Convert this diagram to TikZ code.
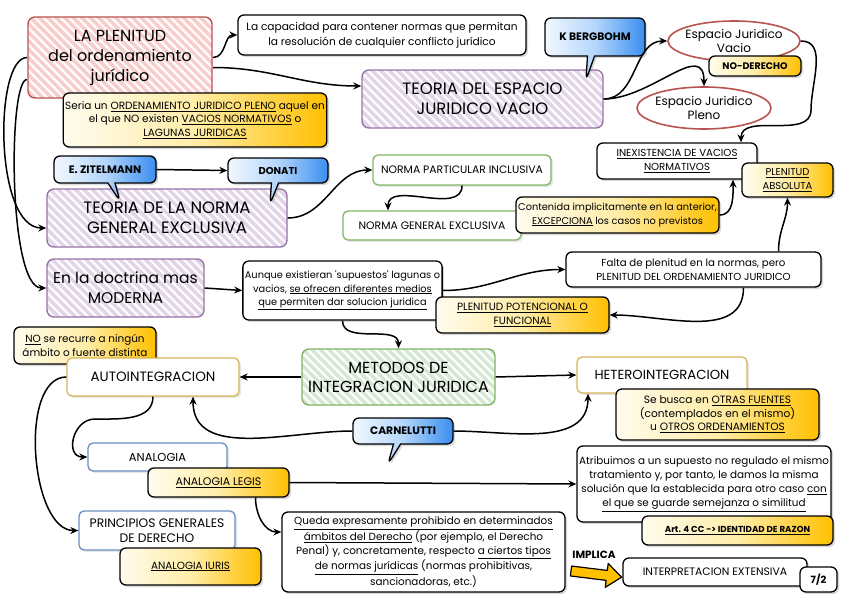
\documentclass[tikz,border=0pt]{standalone}
\usepackage{fontspec}
\setmainfont{Poppins}
\usetikzlibrary{shapes.geometric, shapes.callouts, arrows.meta, patterns.meta, shadows, positioning}

\definecolor{redline}{HTML}{B85450}
\definecolor{redfill}{HTML}{F8CECC}
\definecolor{purpleline}{HTML}{9673A6}
\definecolor{purplefill}{HTML}{E1D5E7}
\definecolor{greenline}{HTML}{82B366}
\definecolor{greenfill}{HTML}{D5E8D4}
\definecolor{goldline}{HTML}{D6B656}
\definecolor{blueline}{HTML}{6C8EBF}
\definecolor{gold}{HTML}{FFC000}
\definecolor{cream}{HTML}{FFFCEE}
\definecolor{paleyellow}{HTML}{FFEDA8}
\definecolor{skyblue}{HTML}{3A8EF0}
\definecolor{midblue}{HTML}{B4D6FB}
\definecolor{paleblue}{HTML}{F2F8FF}

\tikzset{
    topic/.style={
        rectangle, rounded corners=7pt, draw=#1line, line width=1.4pt,
        preaction={fill=#1fill},
        pattern={Lines[angle=-45, distance=6pt, line width=2.2pt]}, pattern color=white,
        align=center, inner sep=2pt, font=\fontsize{16.5}{20}\selectfont
    },
    note/.style={
        rectangle, rounded corners=6pt, draw=black, line width=1.3pt, fill=white,
        drop shadow={opacity=0.3, shadow xshift=2pt, shadow yshift=-2pt},
        align=center, inner sep=2pt, font=\fontsize{10.4}{14}\selectfont
    },
    keybox/.style={
        note, left color=cream, right color=gold, middle color=paleyellow,
        font=\fontsize{10.5}{13.5}\selectfont
    },
    outlined/.style={
        rectangle, rounded corners=5pt, draw=#1, line width=1.3pt, fill=white,
        drop shadow={opacity=0.2, shadow xshift=2pt, shadow yshift=-2pt},
        align=center, inner sep=2pt, font=\fontsize{10.5}{14}\selectfont
    },
    author/.style={
        rectangle callout, rounded corners=6pt, draw=black, line width=1.3pt,
        left color=paleblue, right color=skyblue, middle color=midblue,
        drop shadow={opacity=0.3, shadow xshift=2pt, shadow yshift=-2pt},
        inner sep=2pt, font=\bfseries\fontsize{10.8}{12}\selectfont
    },
    realm/.style={
        ellipse, draw=redline, line width=1.6pt, fill=white,
        align=center, inner sep=-4pt, font=\fontsize{12}{14.5}\selectfont
    },
    blockarrow/.style={draw=black, line width=1.2pt, fill=gold, line join=round},
    wire/.style={draw=black, line width=1.5pt, -{Stealth[length=8pt, width=7pt]}}
}

\begin{document}
\begin{tikzpicture}[x=1pt, y=-1pt]
\useasboundingbox (0,0) rectangle (848,602);

% Plenitud
\node[topic=red, minimum width=184pt, minimum height=81pt, font=\fontsize{16}{20}\selectfont] (plenitud) at (120,57.5) {LA PLENITUD\\del ordenamiento\\jurídico};
\node[note, minimum width=288pt, minimum height=40pt, font=\fontsize{10.6}{15}\selectfont] (capacidad) at (382,35) {La capacidad para contener normas que permitan\\la resolución de cualquier conflicto jurídico};
\node[keybox, minimum width=262pt, minimum height=54pt] (pleno) at (195,120) {Seria un \underline{ORDENAMIENTO JURIDICO PLENO} aquel en\\el que NO existen \underline{VACIOS NORMATIVOS} o\\\underline{LAGUNAS JURIDICAS}};

% Espacio juridico vacio
\node[topic=purple, minimum width=241pt, minimum height=58pt] (espacio) at (482.5,99) {TEORIA DEL ESPACIO\\JURIDICO VACIO};
\coordinate (bergtip) at (586,80);
\node[author, minimum width=100pt, minimum height=38pt, callout absolute pointer=(bergtip)] (bergbohm) at (595,37) {K BERGBOHM};
\node[realm, minimum width=132pt, minimum height=40pt] (vacio) at (734,41) {Espacio Juridico\\Vacio};
\node[keybox, minimum width=92pt, minimum height=20pt, inner sep=1pt, font=\bfseries\fontsize{9.5}{10}\selectfont] (noderecho) at (755,66) {NO-DERECHO};
\node[realm, minimum width=134pt, minimum height=42pt] (plenoell) at (704,108) {Espacio Juridico\\Pleno};
\node[note, minimum width=160pt, minimum height=36pt, font=\fontsize{10.2}{14}\selectfont] (inexist) at (677,161) {\underline{INEXISTENCIA DE VACIOS}\\\underline{NORMATIVOS}};
\node[keybox, minimum width=91pt, minimum height=34pt, font=\fontsize{10}{14}\selectfont] (absoluta) at (787.5,180) {\underline{PLENITUD}\\\underline{ABSOLUTA}};

% Norma general exclusiva
\node[topic=purple, minimum width=240pt, minimum height=58pt] (normagen) at (167,218) {TEORIA DE LA NORMA\\GENERAL EXCLUSIVA};
\coordinate (ziteltip) at (120,201);
\node[author, minimum width=102pt, minimum height=27pt, callout absolute pointer=(ziteltip)] (zitel) at (105,169.5) {E. ZITELMANN};
\coordinate (donatitip) at (270,204);
\node[author, minimum width=100pt, minimum height=25pt, font=\bfseries\fontsize{10}{12}\selectfont, callout absolute pointer=(donatitip)] (donati) at (278,170.5) {DONATI};
\node[outlined=greenline, minimum width=178pt, minimum height=30pt, font=\fontsize{10.8}{12}\selectfont] (particular) at (462,170) {NORMA PARTICULAR INCLUSIVA};
\node[outlined=greenline, minimum width=178pt, minimum height=29pt, font=\fontsize{10.8}{12}\selectfont] (general) at (432,225.5) {NORMA GENERAL EXCLUSIVA};
\node[keybox, minimum width=203pt, minimum height=36pt, font=\fontsize{9.8}{13.5}\selectfont] (contenida) at (617.5,215) {Contenida implicitamente en la anterior,\\\underline{EXCEPCIONA} los casos no previstos};

% Doctrina moderna
\node[topic=purple, minimum width=157pt, minimum height=58pt, font=\fontsize{15.5}{20}\selectfont] (moderna) at (125.5,288) {En la doctrina mas\\MODERNA};
\node[note, minimum width=199pt, minimum height=59pt, font=\fontsize{9.8}{13.5}\selectfont] (aunque) at (342.5,290.5) {Aunque existieran \textquotesingle supuestos\textquotesingle{} lagunas o\\vacios, \underline{se ofrecen diferentes medios}\\\underline{que permiten dar solucion juridica}};
\node[note, minimum width=255pt, minimum height=35pt, font=\fontsize{10.2}{13.5}\selectfont] (falta) at (693.5,269.5) {Falta de plenitud en la normas, pero\\PLENITUD DEL ORDENAMIENTO JURIDICO};
\node[keybox, minimum width=173pt, minimum height=36pt, font=\fontsize{10.5}{14}\selectfont] (potencial) at (522.5,315) {\underline{PLENITUD POTENCIONAL O}\\\underline{FUNCIONAL}};

% Metodos de integracion
\node[keybox, minimum width=142pt, minimum height=37pt, font=\fontsize{10.4}{13.5}\selectfont] (norecurre) at (85,345.5) {\underline{NO} se recurre a ningún\\ámbito o fuente distinta};
\node[outlined=goldline, minimum width=172pt, minimum height=38pt, font=\fontsize{13.5}{14}\selectfont] (auto) at (153,377) {AUTOINTEGRACION};
\node[topic=green, minimum width=193pt, minimum height=56pt, font=\fontsize{16}{19}\selectfont] (metodos) at (398.5,377) {METODOS DE\\INTEGRACION JURIDICA};
\node[outlined=goldline, minimum width=170pt, minimum height=36pt, font=\fontsize{13.2}{14}\selectfont] (hetero) at (662,375) {HETEROINTEGRACION};
\node[keybox, minimum width=203pt, minimum height=51pt, font=\fontsize{10.6}{13.5}\selectfont] (sebusca) at (717.5,414.5) {Se busca en \underline{OTRAS FUENTES}\\(contemplados en el mismo)\\u \underline{OTROS ORDENAMIENTOS}};
\coordinate (carnetip) at (388,464);
\node[author, minimum width=100pt, minimum height=26pt, callout absolute pointer=(carnetip)] (carnelutti) at (403,431) {CARNELUTTI};

% Analogia
\node[outlined=blueline, minimum width=139pt, minimum height=28pt, font=\fontsize{11.5}{12}\selectfont] (analogia) at (157.5,457) {ANALOGIA};
\node[keybox, minimum width=141pt, minimum height=29pt, font=\fontsize{11}{12}\selectfont] (legis) at (218.5,482.5) {\underline{ANALOGIA LEGIS}};
\node[note, minimum width=254pt, minimum height=76pt] (atribuimos) at (704,484) {Atribuimos a un supuesto no regulado el mismo\\tratamiento y, por tanto, le damos la misma\\solución que la establecida para otro caso \underline{con}\\\underline{el que se guarde semejanza o similitud}};
\node[keybox, minimum width=191pt, minimum height=29pt, font=\bfseries\fontsize{8.7}{12}\selectfont] (art4) at (737.5,530.5) {\underline{Art. 4 CC -> IDENTIDAD DE RAZON}};
\node[outlined=blueline, minimum width=156pt, minimum height=39pt, font=\fontsize{12.3}{15.5}\selectfont] (principios) at (157,530.5) {PRINCIPIOS GENERALES\\DE DERECHO};
\node[keybox, minimum width=141pt, minimum height=37pt, font=\fontsize{10.4}{12}\selectfont] (iuris) at (190.5,566.5) {\underline{ANALOGIA IURIS}};
\node[note, minimum width=283pt, minimum height=80pt] (queda) at (423.5,552) {\underline{Queda expresamente prohibido en determinados}\\\underline{ámbitos del Derecho} (por ejemplo, el Derecho\\Penal) y, concretamente, respecto \underline{a ciertos tipos}\\\underline{de normas jurídicas} (normas prohibitivas,\\sancionadoras, etc.)};

% Interpretacion extensiva
\node[font=\bfseries\fontsize{10.5}{12}\selectfont] (implica) at (594,555) {IMPLICA};
\begin{scope}[shift={(571,571)}, rotate=-7]
\path[blockarrow] (0,-5) -- (36,-5) -- (36,-12) -- (51,0) -- (36,12) -- (36,5) -- (0,5) -- cycle;
\end{scope}
\node[note, minimum width=184pt, minimum height=28pt, font=\fontsize{10.8}{12}\selectfont] (interp) at (715,572) {INTERPRETACION EXTENSIVA};
\node[note, minimum width=37pt, minimum height=25pt, font=\bfseries\fontsize{10}{12}\selectfont] (seven) at (818.5,579.5) {7/2};

% Connectors
\draw[wire] (plenitud.east) to[out=0, in=180] (capacidad.west);
\draw[wire] ([yshift=-10pt]plenitud.east) to[out=0, in=180] ([yshift=13pt]espacio.west);
\draw[wire] (plenitud.west) .. controls (-6,58) and (-6,228) .. ([yshift=-10pt]normagen.west);
\draw[wire] ([yshift=-22pt]plenitud.west) .. controls (8,80) and (8,288) .. (moderna.west);
\draw[wire] (espacio.east) to[out=0, in=180] (vacio.west);
\draw[wire] (espacio.east) to[out=0, in=90, looseness=1.2] (plenoell.north);
\coordinate (vaciobend) at (811,110);
\draw[wire] (vacio.east) to[out=0, in=90] (vaciobend) to[out=-90, in=90] ([xshift=64pt]inexist.north);
\draw[wire] (zitel.east) -- (donati.west);
\draw[wire] (normagen.east) to[out=0, in=180] (particular.west);
\draw[wire] (particular.south) to[out=-90, in=90] ([xshift=-44pt]general.north);
\draw[wire] (contenida.east) to[out=0, in=-90] ([xshift=56pt]inexist.south);
\draw[wire] (moderna.east) -- (aunque.west);
\draw[wire] (aunque.east) to[out=0, in=180] (falta.west);
\draw[wire] ([xshift=85pt]falta.north) to[out=90, in=-90] (absoluta.south);
\draw[wire] ([xshift=50pt]falta.south) to[out=-90, in=0] (potencial.east);
\draw[wire] (aunque.south) to[out=-90, in=90] (metodos.north);
\draw[wire] (metodos.west) -- (auto.east);
\draw[wire] (metodos.east) -- (hetero.west);
\draw[wire] (carnelutti.west) to[out=180, in=-90] ([xshift=40pt]auto.south);
\draw[wire] (carnelutti.east) to[out=0, in=-90] ([xshift=-74pt]hetero.south);
\coordinate (analogbend) at (95,419);
\draw[wire] (auto.south) to[out=-90, in=0] (analogbend) to[out=180, in=180, looseness=1.5] (analogia.west);
\draw[wire] (auto.west) to[out=180, in=180, looseness=0.8] (principios.west);
\draw[wire] (legis.east) -- (atribuimos.west);
\draw[wire] ([xshift=37pt]legis.south) to[out=-90, in=180] ([yshift=20pt]queda.west);

\end{tikzpicture}
\end{document}
